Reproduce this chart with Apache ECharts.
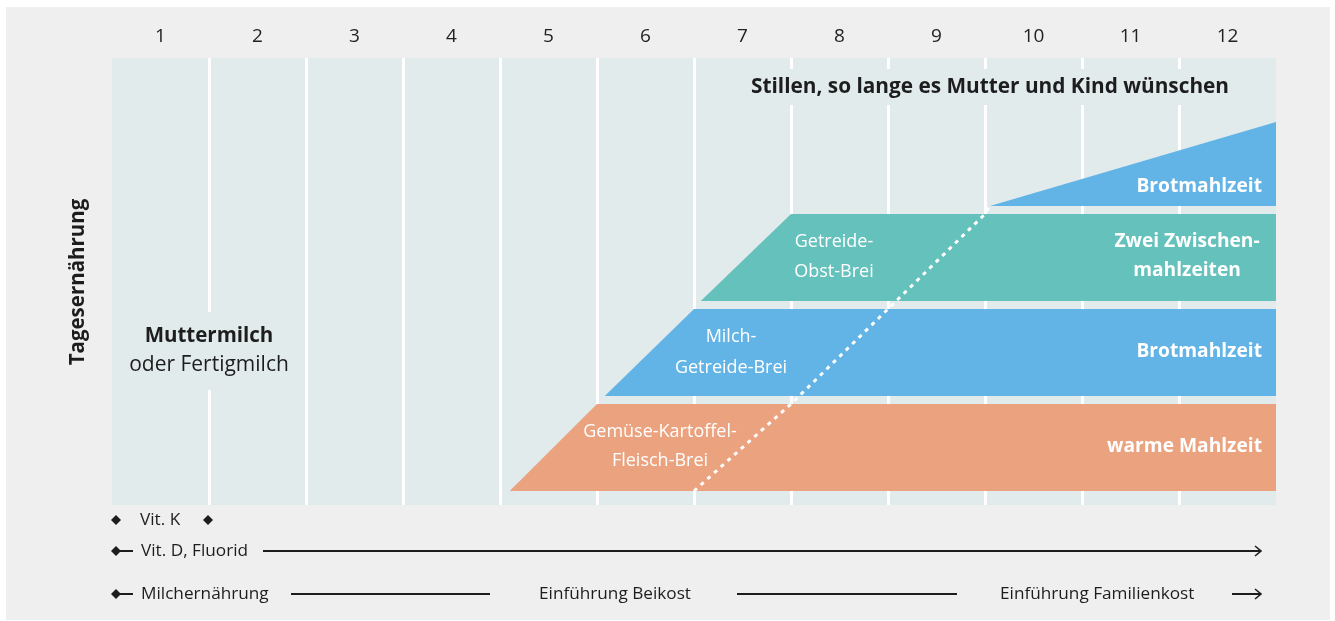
<!DOCTYPE html>
<html><head><meta charset="utf-8">
<script src="https://cdn.jsdelivr.net/npm/echarts@6/dist/echarts.min.js"></script>
<style>
html,body{margin:0;padding:0;background:#fff;}
#bg{position:absolute;left:6px;top:7px;width:1324px;height:613px;background:#efefef;}
#chart{position:absolute;left:0;top:0;width:1335px;height:621px;}
</style></head><body>
<div id="bg"></div><div id="chart"></div>
<script>
// ---- data (months on x, vertical "share of daily diet" units on y) ----
const months = ['1','2','3','4','5','6','7','8','9','10','11','12'];
const bandNames = ['warme Mahlzeit', 'Brotmahlzeit', 'Zwei Zwischenmahlzeiten', 'Brotmahlzeit (abends)'];
const bandColors = ['#EAA27F', '#63B4E6', '#65C1BC', '#63B4E6'];
const bandStartBottom = [4.1, 5.08, 6.07, 9.05];   // month where band starts (bottom edge)
const bandStartTop    = [5.0, 6.0, 7.0, 9.05];     // month where band reaches full height
const bandBottom      = [14, 109, 204, 299];
const bandTopLeft     = [101, 196, 291, 299];
const bandTopRight    = [101, 196, 291, 383];
const bandEnd = 12;
const transitionX = [6.0, 7.0, 8.0, 9.0, 9.05];
const transitionY = [14, 101, 196, 291, 299];
const yMax = 447;

const FONT = '"Open Sans", "Noto Sans", sans-serif';
const ink = '#1d1d1d';
const plotBg = '#E2EBEC';

const chart = echarts.init(document.getElementById('chart'), null, {renderer: 'canvas'});

function diamond(cx, cy){ return {type:'polygon', z:100, shape:{points:[[cx,cy-5],[cx+5,cy],[cx,cy+5],[cx-5,cy]]}, style:{fill:ink}}; }
function hline(x1,x2,y){ return {type:'line', z:100, shape:{x1:x1,y1:y,x2:x2,y2:y}, style:{stroke:ink,lineWidth:2}}; }
function arrowHead(x,y){ return {type:'polyline', z:100, shape:{points:[[x-6,y-5],[x,y],[x-6,y+5]]}, style:{stroke:ink,lineWidth:1.6,fill:null}}; }
function txt(x,y,s,opts){
  opts = opts || {};
  return {type:'text', z:100, x:x, y:y, rotation: opts.rotation || 0,
    style:Object.assign({text:s, font:(opts.weight||'normal')+' '+(opts.size||17)+'px '+FONT, fill:opts.fill||ink,
      align:opts.align||'left', verticalAlign:'middle'}, opts.extra||{})};
}

const bandData = bandNames.map((n,i)=>[bandStartBottom[i], bandStartTop[i], bandBottom[i], bandTopLeft[i], bandTopRight[i]]);

const BS = 17.2; // bottom text size
const elements = [
  // axis title
  txt(78, 282, 'Tagesernährung', {weight:'bold', size:20.5, align:'center', rotation: Math.PI/2}),
  // headline
  txt(1237, 87, 'Stillen, so lange es Mutter und Kind wünschen', {weight:'bold', size:20.8, align:'right',
     extra:{backgroundColor: plotBg, padding:[7,8,9,8], lineHeight:20}}),
  // milk label
  {type:'text', z:100, x:209, y:351, style:{
     text:'{b|Muttermilch}\n{r|oder Fertigmilch}', align:'center', verticalAlign:'middle',
     backgroundColor: plotBg, padding:[10,4,10,4],
     rich:{b:{font:'bold 20.5px '+FONT, fill:ink, lineHeight:29, align:'center'},
           r:{font:'normal 21px '+FONT, fill:ink, lineHeight:29, align:'center'}}}},
  // band labels (right)
  txt(1262, 187, 'Brotmahlzeit', {weight:'bold', size:19.2, align:'right', fill:'#fff'}),
  txt(1187, 242, 'Zwei Zwischen-', {weight:'bold', size:19.2, align:'center', fill:'#fff'}),
  txt(1187, 271, 'mahlzeiten', {weight:'bold', size:19.2, align:'center', fill:'#fff'}),
  txt(1262, 352, 'Brotmahlzeit', {weight:'bold', size:19.2, align:'right', fill:'#fff'}),
  txt(1262, 447, 'warme Mahlzeit', {weight:'bold', size:19.2, align:'right', fill:'#fff'}),
  // band labels (left, introduction)
  txt(834, 242, 'Getreide-', {size:18, align:'center', fill:'#fff'}),
  txt(834, 272, 'Obst-Brei', {size:18, align:'center', fill:'#fff'}),
  txt(731, 337, 'Milch-', {size:18, align:'center', fill:'#fff'}),
  txt(731, 368, 'Getreide-Brei', {size:18, align:'center', fill:'#fff'}),
  txt(660, 432, 'Gemüse-Kartoffel-', {size:18, align:'center', fill:'#fff'}),
  txt(660, 461, 'Fleisch-Brei', {size:18, align:'center', fill:'#fff'}),
  // bottom rows
  diamond(116, 520), txt(140, 520, 'Vit. K', {size:BS}), diamond(208, 520),
  diamond(116, 551), hline(116, 133, 551), txt(141, 551, 'Vit. D, Fluorid', {size:BS}),
  hline(263, 1261, 551), arrowHead(1261, 551),
  diamond(116, 594), hline(116, 133, 594), txt(141, 594, 'Milchernährung', {size:BS}),
  hline(291, 490, 594), txt(615, 594, 'Einführung Beikost', {size:BS, align:'center'}),
  hline(737, 957, 594), txt(1000, 594, 'Einführung Familienkost', {size:BS}),
  hline(1232, 1261, 594), arrowHead(1261, 594)
];

chart.setOption({
  animation: false,
  backgroundColor: 'transparent',
  grid: {left:112, top:58, width:1164, height:447, show:true, backgroundColor: plotBg, borderWidth:0},
  xAxis: [
    {type:'value', min:0, max:12, interval:1, position:'bottom',
     axisLine:{show:false}, axisTick:{show:false}, axisLabel:{show:false},
     splitLine:{show:true, showMinLine:false, showMaxLine:false, lineStyle:{color:'#ffffff', width:3}}},
    {type:'category', data: months, position:'top', boundaryGap:true,
     axisLine:{show:false}, axisTick:{show:false}, splitLine:{show:false},
     axisLabel:{show:true, color:'#222', fontSize:19, fontFamily:FONT, margin:21, verticalAlign:'middle'}}
  ],
  yAxis: {type:'value', min:0, max:yMax, show:true, axisLine:{show:false}, axisTick:{show:false},
          axisLabel:{show:false}, splitLine:{show:false}},
  series: [
    {type:'custom', name:'Mahlzeiten', xAxisIndex:0, yAxisIndex:0, z:2,
     encode:{x:[0,1], y:[2,3,4]},
     data: bandData,
     renderItem: function(params, api){
       const pts = [
         api.coord([api.value(0), api.value(2)]),
         api.coord([api.value(1), api.value(3)]),
         api.coord([bandEnd, api.value(4)]),
         api.coord([bandEnd, api.value(2)])
       ];
       return {type:'polygon', shape:{points:pts}, style:{fill: bandColors[params.dataIndex]}};
     }},
    {type:'line', name:'Übergang', xAxisIndex:0, yAxisIndex:0, z:5, symbol:'none', silent:true,
     data: transitionX.map((x,i)=>[x, transitionY[i]]),
     lineStyle:{color:'#ffffff', width:3, type:[4,5], cap:'butt'}}
  ],
  graphic: {elements: elements}
});
</script>
</body></html>
